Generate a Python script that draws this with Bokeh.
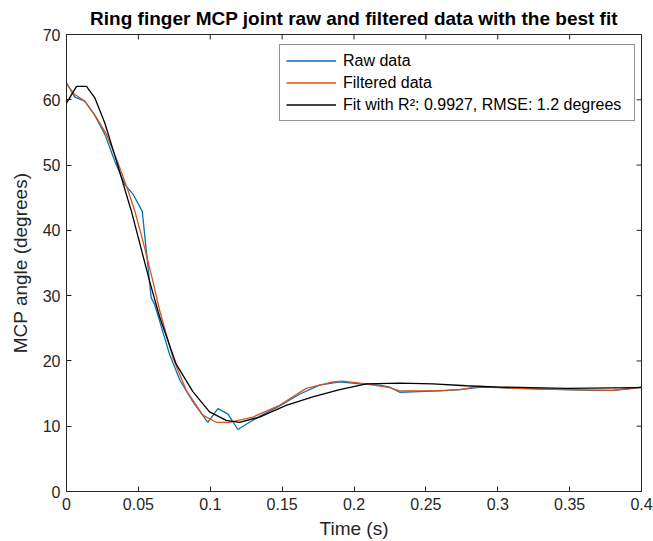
import math
from bokeh.plotting import figure
from bokeh.models import FixedTicker, Legend, LegendItem, Range1d
from bokeh.embed import file_html
from bokeh.resources import INLINE

# ---- data ----
raw_t = [0, 0.0058, 0.0127, 0.0197, 0.0267, 0.0336, 0.0406, 0.0464, 0.0527,
         0.0589, 0.0612, 0.0647, 0.0717, 0.0790, 0.0879, 0.0983, 0.1053, 0.1122,
         0.1192, 0.1273, 0.1343, 0.1482, 0.1620, 0.1760, 0.1900, 0.2040, 0.2180,
         0.2247, 0.2317, 0.2450, 0.2600, 0.2740, 0.2880, 0.3010, 0.3150, 0.3300,
         0.3480, 0.3650, 0.3800, 0.3900, 0.4000]
raw_deg = [62.6, 60.4, 59.8, 57.6, 54.7, 50.6, 47.0, 45.5, 42.9,
           29.7, 28.7, 26.2, 21.0, 17.0, 13.75, 10.6, 12.7, 11.9,
           9.5, 10.6, 11.5, 13.1, 14.9, 16.3, 16.8, 16.5, 16.3,
           16.0, 15.2, 15.3, 15.4, 15.6, 16.0, 15.9, 15.8, 15.7,
           15.6, 15.5, 15.5, 15.7, 16.0]

filt_t = [0, 0.0058, 0.0127, 0.0197, 0.0278, 0.0359, 0.0430, 0.0476, 0.0530,
          0.0600, 0.0647, 0.0740, 0.0833, 0.0948, 0.1041, 0.1134, 0.1296, 0.1482,
          0.1667, 0.1853, 0.1922, 0.2085, 0.2247, 0.2317, 0.2548, 0.2734, 0.2873,
          0.3128, 0.3476, 0.3800, 0.4000]
filt_deg = [62.4, 60.8, 59.8, 57.7, 54.7, 50.3, 46.0, 42.9, 38.5,
            32.3, 27.8, 20.5, 15.5, 11.7, 10.6, 10.6, 11.4, 13.2,
            15.8, 16.8, 16.9, 16.5, 15.9, 15.4, 15.4, 15.6, 16.1,
            15.8, 15.6, 15.5, 16.0]

fit_t = [0, 0.0070, 0.0139, 0.0197, 0.0267, 0.0348, 0.0430, 0.0452, 0.0577,
         0.0647, 0.0763, 0.0879, 0.0995, 0.1111, 0.1203, 0.1343, 0.1528, 0.1713,
         0.1900, 0.2085, 0.2317, 0.2548, 0.2781, 0.3012, 0.3476, 0.3974, 0.4000]
fit_deg = [59.5, 62.05, 62.05, 60.3, 56.4, 50.6, 44.5, 42.9, 32.3,
           26.8, 19.5, 15.3, 12.2, 10.9, 10.6, 11.4, 13.2, 14.5,
           15.6, 16.5, 16.6, 16.5, 16.2, 16.0, 15.8, 15.9, 15.9]

x_ticks = [0, 0.05, 0.1, 0.15, 0.2, 0.25, 0.3, 0.35, 0.4]
x_tick_labels = ["0", "0.05", "0.1", "0.15", "0.2", "0.25", "0.3", "0.35", "0.4"]
y_ticks = [0, 10, 20, 30, 40, 50, 60, 70]

series_labels = ["Raw data", "Filtered data", "Fit with R\u00b2: 0.9927, RMSE: 1.2 degrees"]

FONT = "Liberation Sans"
AX = "#262626"
X_MIN, X_MAX, Y_MIN, Y_MAX = 0, 0.4, 0, 70

p = figure(width=653, height=541, output_backend="svg", toolbar_location=None,
           x_range=Range1d(X_MIN, X_MAX), y_range=Range1d(Y_MIN, Y_MAX),
           min_border_left=66, min_border_right=12, min_border_top=33,
           min_border_bottom=50)
p.background_fill_color = "white"
p.border_fill_color = "white"
p.outline_line_color = AX
p.outline_line_width = 1
p.grid.visible = False

p.title.text = "Ring finger MCP joint raw and filtered data with the best fit"
p.title.align = "center"
p.title.text_font = FONT
p.title.text_font_size = "19px"
p.title.text_font_style = "bold"
p.title.text_color = "black"
p.title.standoff = 11
p.title.offset = -5

r_raw = p.line(raw_t, raw_deg, line_color="#0072BD", line_width=1.3)
r_filt = p.line(filt_t, filt_deg, line_color="#D95319", line_width=1.3)
r_fit = p.line(fit_t, fit_deg, line_color="black", line_width=1.3)

# inward ticks on the top and right edges of the box (frame clips the outer half)
p.scatter(x_ticks, [Y_MAX] * len(x_ticks), marker="dash", angle=math.pi / 2,
          size=10, line_color=AX, line_width=1)
p.scatter([X_MAX] * len(y_ticks), y_ticks, marker="dash",
          size=10, line_color=AX, line_width=1)


def style_axis(ax):
    ax.axis_line_color = AX
    ax.major_tick_line_color = AX
    ax.major_tick_in = 5
    ax.major_tick_out = 0
    ax.minor_tick_line_color = None
    ax.major_label_text_color = AX
    ax.major_label_text_font = FONT
    ax.major_label_text_font_size = "16px"
    ax.axis_label_text_font = FONT
    ax.axis_label_text_font_size = "19px"
    ax.axis_label_text_font_style = "normal"
    ax.axis_label_text_color = AX


xa = p.xaxis[0]
xa.ticker = FixedTicker(ticks=x_ticks)
xa.major_label_overrides = {t: l for t, l in zip(x_ticks, x_tick_labels)}
xa.axis_label = "Time (s)"
xa.major_label_standoff = 6
xa.axis_label_standoff = 5
style_axis(xa)

ya = p.yaxis[0]
ya.ticker = FixedTicker(ticks=y_ticks)
ya.axis_label = "MCP angle (degrees)"
ya.major_label_standoff = 6
ya.axis_label_standoff = 9
style_axis(ya)

legend = Legend(items=[LegendItem(label=series_labels[0], renderers=[r_raw]),
                       LegendItem(label=series_labels[1], renderers=[r_filt]),
                       LegendItem(label=series_labels[2], renderers=[r_fit])],
                location=(213, 370))
legend.label_text_font = FONT
legend.label_text_font_size = "16px"
legend.label_text_color = "black"
legend.glyph_width = 50
legend.glyph_height = 19
legend.label_height = 19
legend.label_width = 285
legend.label_standoff = 7
legend.spacing = 3
legend.padding = 6
legend.margin = 0
legend.border_line_color = AX
legend.border_line_width = 1
legend.background_fill_color = "white"
legend.background_fill_alpha = 1
p.add_layout(legend, "center")

open("out.html", "w").write(file_html(p, INLINE))
